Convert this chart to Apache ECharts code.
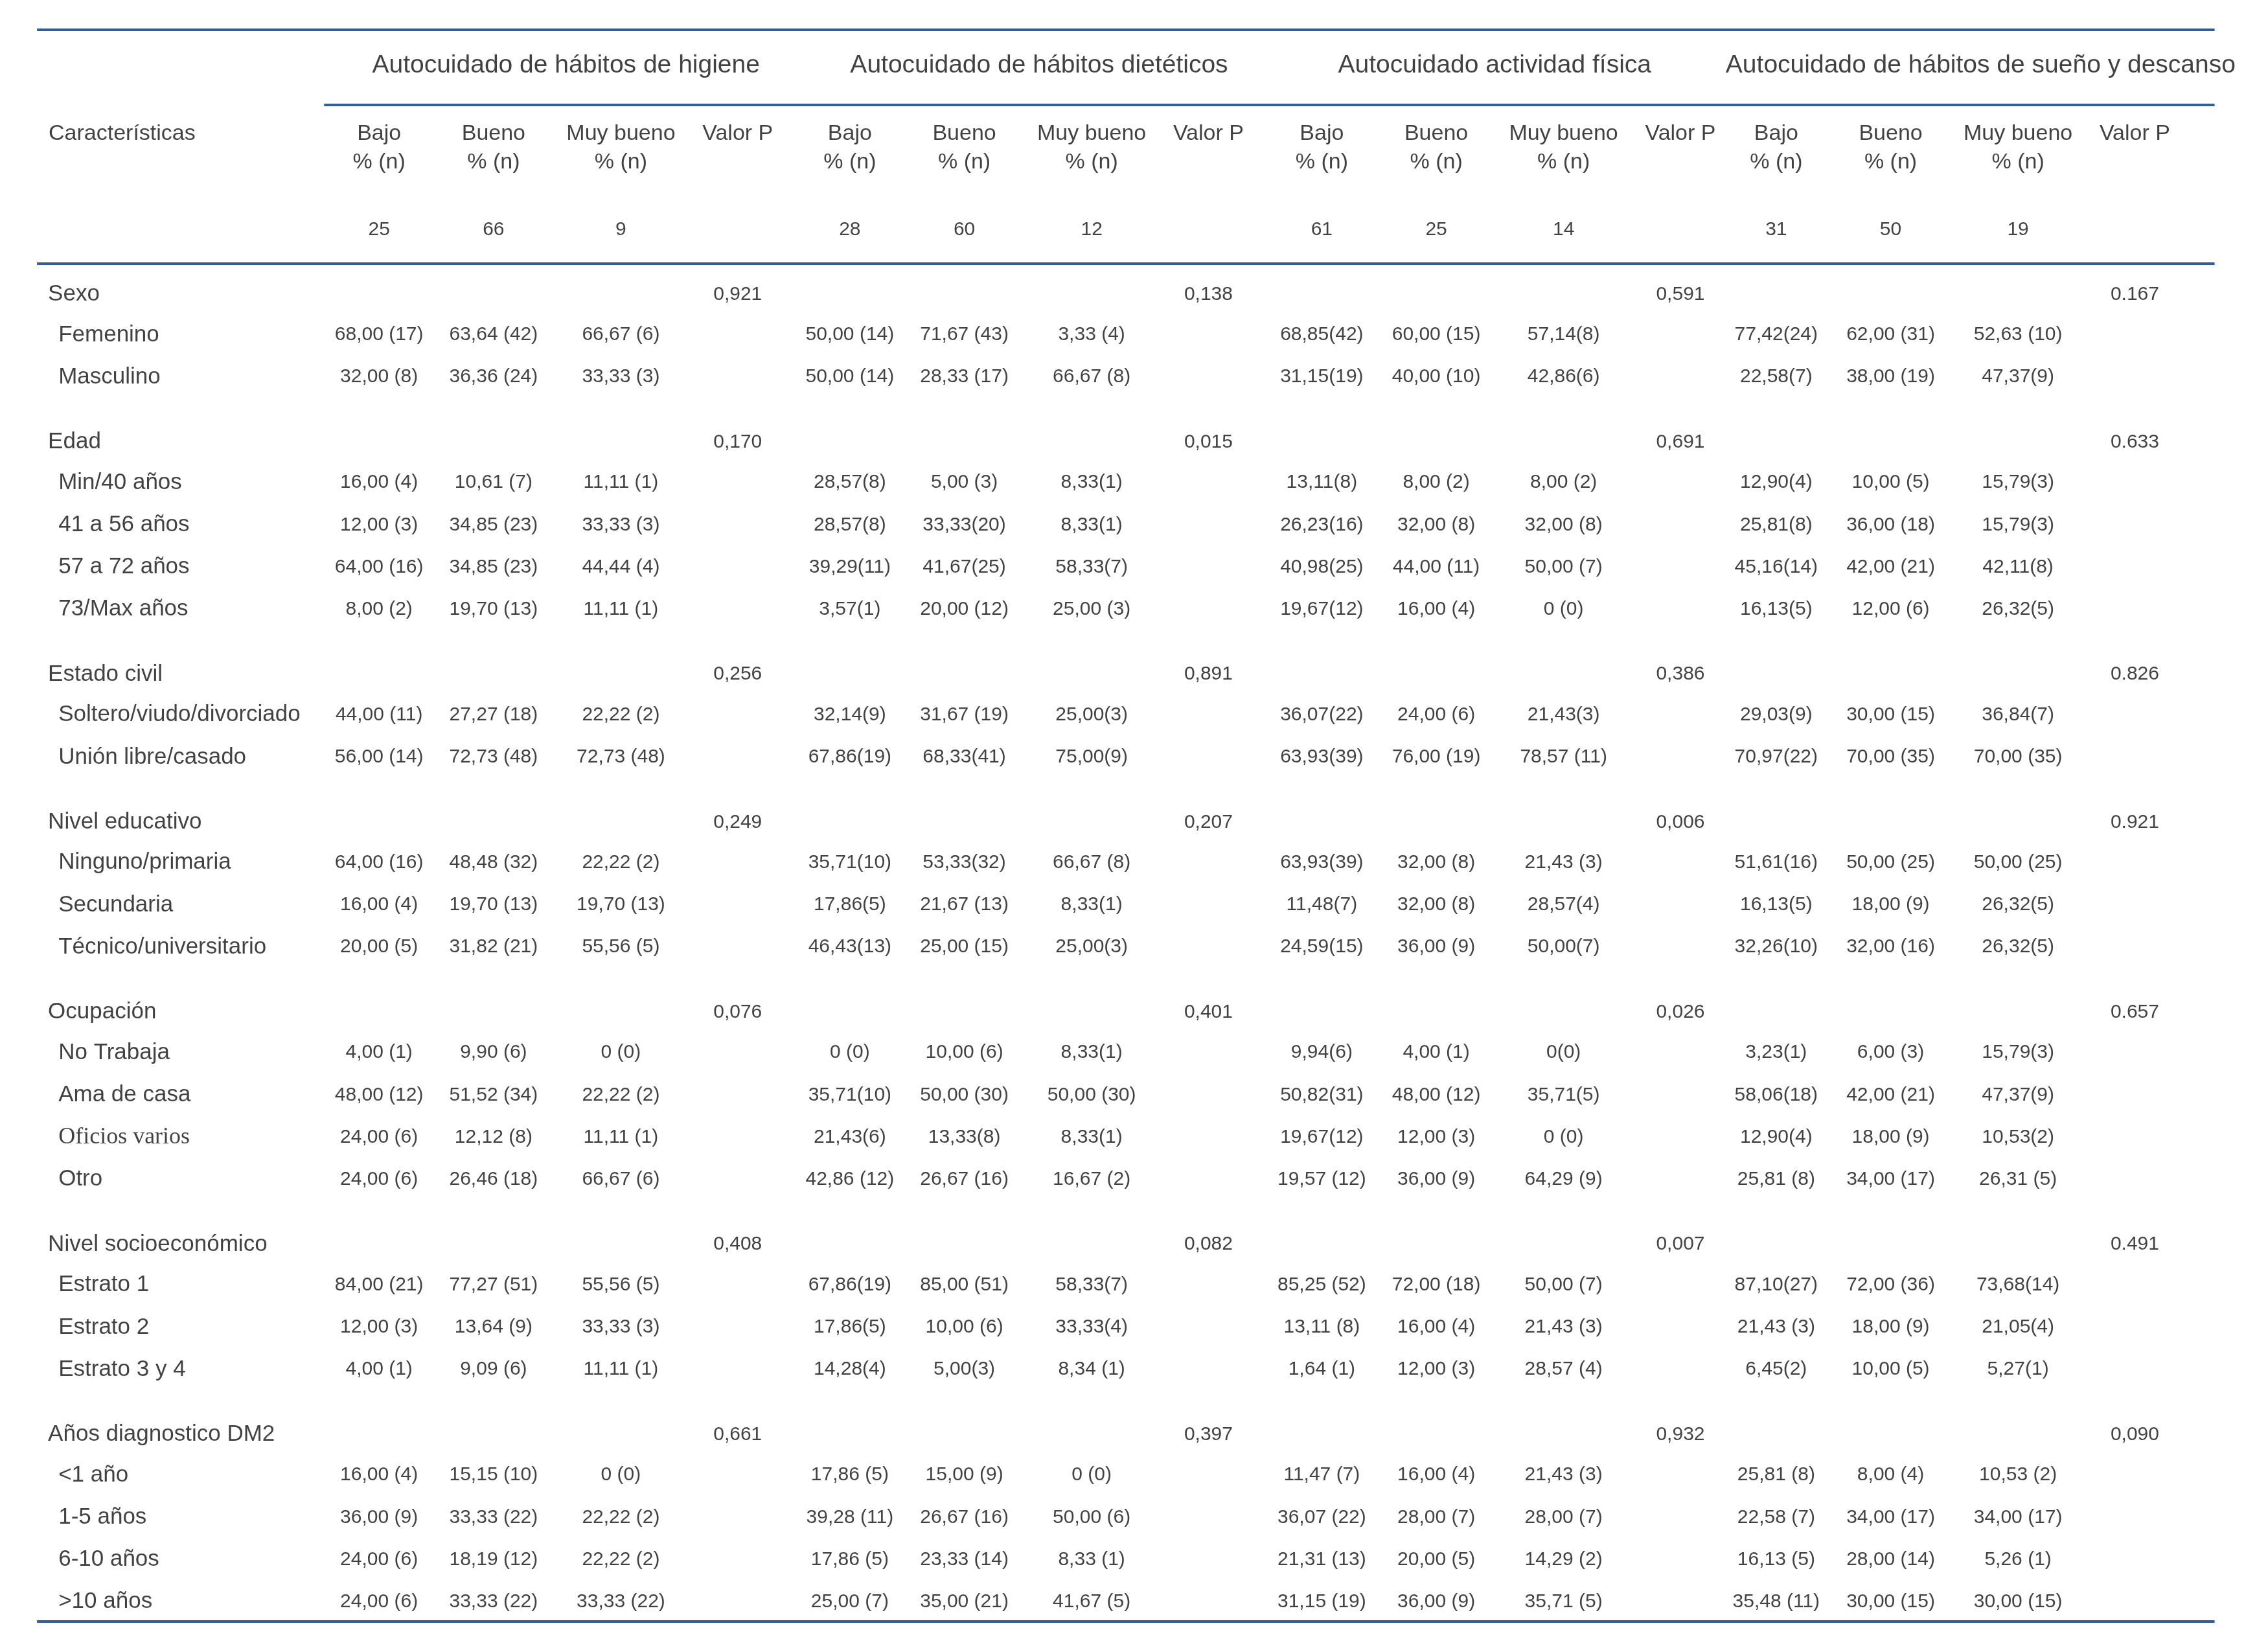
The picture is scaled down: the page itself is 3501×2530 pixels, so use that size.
<!DOCTYPE html>
<html>
<head>
<meta charset="utf-8">
<script src="https://cdn.jsdelivr.net/npm/echarts@6/dist/echarts.min.js"></script>
<style>
  html, body { margin: 0; padding: 0; background: #fff; }
  #main { width: 3501px; height: 2530px; }
</style>
</head>
<body>
<div id="main"></div>
<script>
// dimensiones de autocuidado (grupos de columnas)
const dimensions = [
  'Autocuidado de hábitos de higiene',
  'Autocuidado de hábitos dietéticos',
  'Autocuidado actividad física',
  'Autocuidado de hábitos de sueño y descanso'
];
const levels = ['Bajo', 'Bueno', 'Muy bueno'];
const levelUnit = '% (n)';
const pHeader = 'Valor P';
const nTotals = [[25, 66, 9], [28, 60, 12], [61, 25, 14], [31, 50, 19]];

// características y sus categorías
const variables = ['Sexo', 'Edad', 'Estado civil', 'Nivel educativo', 'Ocupación', 'Nivel socioeconómico', 'Años diagnostico DM2'];
const categories = [
  ['Femenino', 'Masculino'],
  ['Min/40 años', '41 a 56 años', '57 a 72 años', '73/Max años'],
  ['Soltero/viudo/divorciado', 'Unión libre/casado'],
  ['Ninguno/primaria', 'Secundaria', 'Técnico/universitario'],
  ['No Trabaja', 'Ama de casa', 'Oficios varios', 'Otro'],
  ['Estrato 1', 'Estrato 2', 'Estrato 3 y 4'],
  ['<1 año', '1-5 años', '6-10 años', '>10 años']
];
const serifLabels = ['Oficios varios'];

// valor P por característica (higiene, dietéticos, actividad, sueño)
const pValues = [
  ['0,921', '0,138', '0,591', '0.167'],
  ['0,170', '0,015', '0,691', '0.633'],
  ['0,256', '0,891', '0,386', '0.826'],
  ['0,249', '0,207', '0,006', '0.921'],
  ['0,076', '0,401', '0,026', '0.657'],
  ['0,408', '0,082', '0,007', '0.491'],
  ['0,661', '0,397', '0,932', '0,090']
];

// % (n) por categoría: Bajo, Bueno, Muy bueno
const higiene = [
  ['68,00 (17)', '63,64 (42)', '66,67 (6)'],
  ['32,00 (8)', '36,36 (24)', '33,33 (3)'],
  ['16,00 (4)', '10,61 (7)', '11,11 (1)'],
  ['12,00 (3)', '34,85 (23)', '33,33 (3)'],
  ['64,00 (16)', '34,85 (23)', '44,44 (4)'],
  ['8,00 (2)', '19,70 (13)', '11,11 (1)'],
  ['44,00 (11)', '27,27 (18)', '22,22 (2)'],
  ['56,00 (14)', '72,73 (48)', '72,73 (48)'],
  ['64,00 (16)', '48,48 (32)', '22,22 (2)'],
  ['16,00 (4)', '19,70 (13)', '19,70 (13)'],
  ['20,00 (5)', '31,82 (21)', '55,56 (5)'],
  ['4,00 (1)', '9,90 (6)', '0 (0)'],
  ['48,00 (12)', '51,52 (34)', '22,22 (2)'],
  ['24,00 (6)', '12,12 (8)', '11,11 (1)'],
  ['24,00 (6)', '26,46 (18)', '66,67 (6)'],
  ['84,00 (21)', '77,27 (51)', '55,56 (5)'],
  ['12,00 (3)', '13,64 (9)', '33,33 (3)'],
  ['4,00 (1)', '9,09 (6)', '11,11 (1)'],
  ['16,00 (4)', '15,15 (10)', '0 (0)'],
  ['36,00 (9)', '33,33 (22)', '22,22 (2)'],
  ['24,00 (6)', '18,19 (12)', '22,22 (2)'],
  ['24,00 (6)', '33,33 (22)', '33,33 (22)']
];
const dieteticos = [
  ['50,00 (14)', '71,67 (43)', '3,33 (4)'],
  ['50,00 (14)', '28,33 (17)', '66,67 (8)'],
  ['28,57(8)', '5,00 (3)', '8,33(1)'],
  ['28,57(8)', '33,33(20)', '8,33(1)'],
  ['39,29(11)', '41,67(25)', '58,33(7)'],
  ['3,57(1)', '20,00 (12)', '25,00 (3)'],
  ['32,14(9)', '31,67 (19)', '25,00(3)'],
  ['67,86(19)', '68,33(41)', '75,00(9)'],
  ['35,71(10)', '53,33(32)', '66,67 (8)'],
  ['17,86(5)', '21,67 (13)', '8,33(1)'],
  ['46,43(13)', '25,00 (15)', '25,00(3)'],
  ['0 (0)', '10,00 (6)', '8,33(1)'],
  ['35,71(10)', '50,00 (30)', '50,00 (30)'],
  ['21,43(6)', '13,33(8)', '8,33(1)'],
  ['42,86 (12)', '26,67 (16)', '16,67 (2)'],
  ['67,86(19)', '85,00 (51)', '58,33(7)'],
  ['17,86(5)', '10,00 (6)', '33,33(4)'],
  ['14,28(4)', '5,00(3)', '8,34 (1)'],
  ['17,86 (5)', '15,00 (9)', '0 (0)'],
  ['39,28 (11)', '26,67 (16)', '50,00 (6)'],
  ['17,86 (5)', '23,33 (14)', '8,33 (1)'],
  ['25,00 (7)', '35,00 (21)', '41,67 (5)']
];
const actividad = [
  ['68,85(42)', '60,00 (15)', '57,14(8)'],
  ['31,15(19)', '40,00 (10)', '42,86(6)'],
  ['13,11(8)', '8,00 (2)', '8,00 (2)'],
  ['26,23(16)', '32,00 (8)', '32,00 (8)'],
  ['40,98(25)', '44,00 (11)', '50,00 (7)'],
  ['19,67(12)', '16,00 (4)', '0 (0)'],
  ['36,07(22)', '24,00 (6)', '21,43(3)'],
  ['63,93(39)', '76,00 (19)', '78,57 (11)'],
  ['63,93(39)', '32,00 (8)', '21,43 (3)'],
  ['11,48(7)', '32,00 (8)', '28,57(4)'],
  ['24,59(15)', '36,00 (9)', '50,00(7)'],
  ['9,94(6)', '4,00 (1)', '0(0)'],
  ['50,82(31)', '48,00 (12)', '35,71(5)'],
  ['19,67(12)', '12,00 (3)', '0 (0)'],
  ['19,57 (12)', '36,00 (9)', '64,29 (9)'],
  ['85,25 (52)', '72,00 (18)', '50,00 (7)'],
  ['13,11 (8)', '16,00 (4)', '21,43 (3)'],
  ['1,64 (1)', '12,00 (3)', '28,57 (4)'],
  ['11,47 (7)', '16,00 (4)', '21,43 (3)'],
  ['36,07 (22)', '28,00 (7)', '28,00 (7)'],
  ['21,31 (13)', '20,00 (5)', '14,29 (2)'],
  ['31,15 (19)', '36,00 (9)', '35,71 (5)']
];
const sueno = [
  ['77,42(24)', '62,00 (31)', '52,63 (10)'],
  ['22,58(7)', '38,00 (19)', '47,37(9)'],
  ['12,90(4)', '10,00 (5)', '15,79(3)'],
  ['25,81(8)', '36,00 (18)', '15,79(3)'],
  ['45,16(14)', '42,00 (21)', '42,11(8)'],
  ['16,13(5)', '12,00 (6)', '26,32(5)'],
  ['29,03(9)', '30,00 (15)', '36,84(7)'],
  ['70,97(22)', '70,00 (35)', '70,00 (35)'],
  ['51,61(16)', '50,00 (25)', '50,00 (25)'],
  ['16,13(5)', '18,00 (9)', '26,32(5)'],
  ['32,26(10)', '32,00 (16)', '26,32(5)'],
  ['3,23(1)', '6,00 (3)', '15,79(3)'],
  ['58,06(18)', '42,00 (21)', '47,37(9)'],
  ['12,90(4)', '18,00 (9)', '10,53(2)'],
  ['25,81 (8)', '34,00 (17)', '26,31 (5)'],
  ['87,10(27)', '72,00 (36)', '73,68(14)'],
  ['21,43 (3)', '18,00 (9)', '21,05(4)'],
  ['6,45(2)', '10,00 (5)', '5,27(1)'],
  ['25,81 (8)', '8,00 (4)', '10,53 (2)'],
  ['22,58 (7)', '34,00 (17)', '34,00 (17)'],
  ['16,13 (5)', '28,00 (14)', '5,26 (1)'],
  ['35,48 (11)', '30,00 (15)', '30,00 (15)']
];
const cellsByDim = [higiene, dieteticos, actividad, sueno];

// --- maquetación de la tabla (unidades de columna / de fila) ---
const groupStart = [0, 4.03, 8.07, 11.96];
const subCol = [0, 0.98, 2.07, 3.07];
const titleShift = [1.6, 1.62, 1.48, 1.75];
const colX = (g, k) => groupStart[g] + subCol[k];
const labelX = -2.834, indentX = -2.745;
const yTitle = -5.37, yLevel = -3.76, yUnit = -3.08, yN = -1.49;
const ruleColor = '#2e5e9e';
const ink = '#111111';

function hasFont(name) {
  const c = document.createElement('canvas').getContext('2d');
  const s = '68,00 (17) Características';
  c.font = '40px monospace';
  const a = c.measureText(s).width;
  c.font = '40px "' + name + '", monospace';
  return c.measureText(s).width !== a;
}
const narrow = hasFont('Liberation Sans Narrow');
const numFamily = narrow ? '"Liberation Sans Narrow"' : '"Liberation Sans", Arial, sans-serif';
const numSize = narrow ? 36 : 30;
const sans = '"Liberation Sans", Arial, sans-serif';

// celdas
const titleCells = [], headCells = [], leftHead = [], varCells = [], catCells = [], serifCells = [], numCells = [];
dimensions.forEach((d, g) => {
  titleCells.push({name: d, value: [groupStart[g] + titleShift[g], yTitle]});
  levels.forEach((l, k) => {
    headCells.push({name: l, value: [colX(g, k), yLevel]});
    headCells.push({name: levelUnit, value: [colX(g, k), yUnit]});
    numCells.push({name: String(nTotals[g][k]), value: [colX(g, k), yN]});
  });
  headCells.push({name: pHeader, value: [colX(g, 3), yLevel]});
});
leftHead.push({name: 'Características', value: [labelX + 0.005, yLevel]});

let y = 0, r = 0;
const rules = [-6.228, -4.449, -0.69];
variables.forEach((v, i) => {
  varCells.push({name: v, value: [labelX, y + 0.04]});
  pValues[i].forEach((p, g) => numCells.push({name: p, value: [colX(g, 3), y + 0.04]}));
  y += 1;
  categories[i].forEach(c => {
    (serifLabels.includes(c) ? serifCells : catCells).push({name: c, value: [indentX, y]});
    cellsByDim.forEach((rows, g) => {
      rows[r].forEach((txt, k) => numCells.push({name: txt, value: [colX(g, k), y]}));
    });
    y += 1; r += 1;
  });
  y += 0.5;
});
const bottomRule = y - 1.5 + 0.46;

function textSeries(data, opts) {
  return {
    type: 'scatter', data: data, symbolSize: 1, silent: true,
    itemStyle: {color: 'rgba(0,0,0,0)'},
    label: Object.assign({
      show: true, position: 'inside', color: ink,
      formatter: p => p.name, align: 'center', verticalAlign: 'middle'
    }, opts)
  };
}

const lineSeg = (x0, x1, yy) => [{coord: [x0, yy]}, {coord: [x1, yy]}];

const option = {
  animation: false,
  backgroundColor: '#ffffff',
  grid: {left: 0, right: 0, top: 0, bottom: 0},
  xAxis: {type: 'value', min: -3.245, max: 16.17, show: false},
  yAxis: {type: 'value', min: -6.93, max: 31.88, inverse: true, show: false},
  series: [
    Object.assign(textSeries(titleCells, {fontSize: 39, fontFamily: sans}), {
      markLine: {
        silent: true, symbol: ['none', 'none'], label: {show: false},
        lineStyle: {color: ruleColor, width: 4, type: 'solid'},
        data: [
          lineSeg(-2.928, 15.713, rules[0]),
          lineSeg(-0.471, 15.713, rules[1]),
          lineSeg(-2.928, 15.713, rules[2]),
          lineSeg(-2.928, 15.713, bottomRule)
        ]
      }
    }),
    textSeries(headCells, {fontSize: 34, fontFamily: sans}),
    textSeries(leftHead, {fontSize: 34, fontFamily: sans, align: 'left'}),
    textSeries(varCells, {fontSize: 35, fontFamily: sans, align: 'left'}),
    textSeries(catCells, {fontSize: 35, fontFamily: sans, align: 'left'}),
    textSeries(serifCells, {fontSize: 36, fontFamily: '"Liberation Serif", serif', align: 'left'}),
    textSeries(numCells, {fontSize: numSize, fontFamily: numFamily})
  ]
};

const chart = echarts.init(document.getElementById('main'), null, {renderer: 'canvas'});
chart.setOption(option);
</script>
</body>
</html>
